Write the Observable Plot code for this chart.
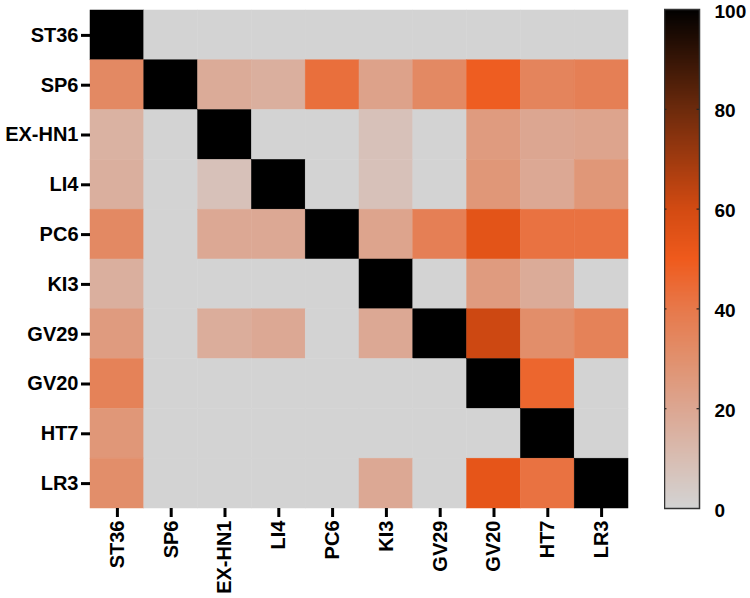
<!DOCTYPE html>
<html>
<head>
<meta charset="utf-8">
<script src="https://cdn.jsdelivr.net/npm/d3@7"></script>
<script src="https://cdn.jsdelivr.net/npm/@observablehq/plot@0.6"></script>
<style>
  html, body { margin: 0; padding: 0; background: #fff; }
  #wrap { position: relative; width: 750px; height: 598px; }
  #wrap svg { position: absolute; top: 0; }
</style>
</head>
<body>
<div id="wrap"></div>
<script>
const points = ["ST36", "SP6", "EX-HN1", "LI4", "PC6", "KI3", "GV29", "GV20", "HT7", "LR3"];

// one array per row (row label = points[i]), columns in the same order
const rowST36  = [100, 0, 0, 0, 0, 0, 0, 0, 0, 0];
const rowSP6   = [33, 100, 18, 16, 43, 22, 33, 49, 35, 37];
const rowEXHN1 = [15, 0, 100, 0, 0, 8, 0, 25, 20, 21];
const rowLI4   = [16, 0, 8, 100, 0, 8, 0, 27, 19, 27];
const rowPC6   = [33, 0, 19, 19, 100, 21, 37, 54, 42, 42];
const rowKI3   = [16, 0, 0, 0, 0, 100, 0, 25, 18, 0];
const rowGV29  = [25, 0, 17, 19, 0, 19, 100, 61, 31, 36];
const rowGV20  = [36, 0, 0, 0, 0, 0, 0, 100, 46, 0];
const rowHT7   = [27, 0, 0, 0, 0, 0, 0, 0, 100, 0];
const rowLR3   = [31, 0, 0, 0, 0, 19, 0, 53, 42, 100];

const rows = [rowST36, rowSP6, rowEXHN1, rowLI4, rowPC6, rowKI3, rowGV29, rowGV20, rowHT7, rowLR3];

const colorTicks = [0, 20, 40, 60, 80, 100];
const colorStops = [0, 10, 20, 30, 40, 50, 60, 80, 100];
const colorRange = ["#d3d3d3", "#d8bdb2", "#dca691", "#e1906d", "#e7784a", "#ef5a1c", "#d24a12", "#6c2a0c", "#000000"];

const cells = [];
rows.forEach((r, i) => r.forEach((v, j) => cells.push({row: points[i], col: points[j], v})));

const colorOpts = {type: "linear", domain: colorStops, range: colorRange, interpolate: "rgb", clamp: true};
const font = {fontFamily: "Liberation Sans, Arial, sans-serif", fontSize: "20px", fontWeight: "bold", background: "transparent", color: "#000"};

const main = Plot.plot({
  width: 750,
  height: 598,
  marginLeft: 90,
  marginRight: 122,
  marginTop: 10,
  marginBottom: 90,
  style: font,
  x: {type: "band", domain: points, padding: 0, round: false, label: null},
  y: {type: "band", domain: points, padding: 0, round: false, label: null},
  color: colorOpts,
  marks: [
    Plot.cell(cells, {x: "col", y: "row", fill: "v", inset: 0, stroke: "v", strokeWidth: 0.5}),
    Plot.axisY({tickSize: 9, tickPadding: 3, strokeWidth: 3, label: null}),
    Plot.axisX({tickSize: 9, tickPadding: 3, strokeWidth: 3, tickRotate: -90, label: null})
  ]
});
main.style.left = "0px";
document.getElementById("wrap").appendChild(main);

const grad = d3.range(0, 100, 0.25);
const bar = Plot.plot({
  width: 86,
  height: 598,
  marginLeft: 0,
  marginRight: 51,
  marginTop: 9,
  marginBottom: 90,
  style: {...font, fontSize: "19px"},
  x: {domain: [0, 1], axis: null},
  y: {domain: [0, 100], label: null},
  color: colorOpts,
  marks: [
    Plot.rect(grad, {x1: 0, x2: 1, y1: d => d, y2: d => d + 0.3, fill: d => d + 0.125, shapeRendering: "crispEdges"}),
    Plot.ruleY(colorTicks.slice(1, -1), {x1: 0, x2: 0.07, stroke: "#222", strokeWidth: 1.2}),
    Plot.ruleY(colorTicks.slice(1, -1), {x1: 0.93, x2: 1, stroke: "#222", strokeWidth: 1.2}),
    Plot.frame({stroke: "#333", strokeWidth: 1.5}),
    Plot.axisY({anchor: "right", ticks: colorTicks, tickSize: 0, tickPadding: 15, dy: 2, label: null, textAnchor: "start"})
  ]
});
bar.style.left = "664px";
document.getElementById("wrap").appendChild(bar);
</script>
</body>
</html>
